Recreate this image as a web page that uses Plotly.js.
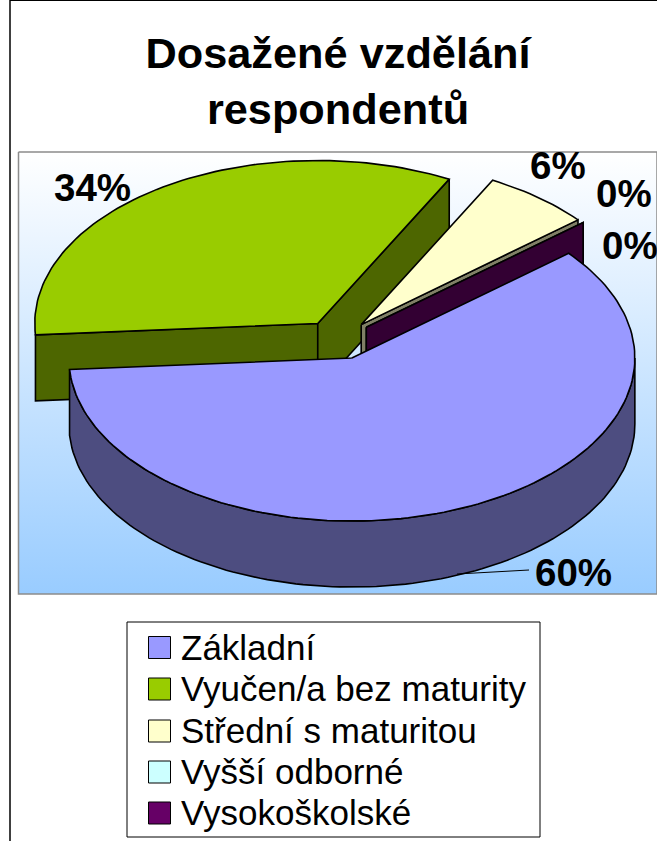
<!DOCTYPE html>
<html><head><meta charset="utf-8">
<script src="https://cdn.plot.ly/plotly-3.0.1.min.js"></script>
<style>html,body{margin:0;padding:0;background:#fff;overflow:hidden}</style>
</head><body><div id="chart" style="width:657px;height:841px"></div>
<script>
const categories = ['Základní','Vyučen/a bez maturity','Střední s maturitou','Vyšší odborné','Vysokoškolské'];
const values = [60, 33.8, 6.2, 0, 0];
const colors = ['#9999FF','#99CC00','#FFFFCC','#CCFFFF','#660066'];
const wallColors = ['#4D4D80','#4D6600','#808066','#668080','#330033'];
const pieTitle = 'Dosažené vzdělání<br>respondentů';

// pie projection
const C = {x:338, y:339.9}, A = 283, B = 163, EA = 37, EB = 19.6, DEPTH = 66, START = 50;
const total = values.reduce((a,b)=>a+b,0);
const rad = d => d*Math.PI/180;
let acc = START;
const slices = values.map((v,i)=>{
  const from = acc, to = acc + v/total*360; acc = to;
  const mid = rad((from+to)/2);
  return {i, from, to, cx:C.x+EA*Math.sin(mid), cy:C.y-EB*Math.cos(mid)};
});
function rim(s, a){ return {x:s.cx+A*Math.sin(rad(a)), y:s.cy-B*Math.cos(rad(a))}; }
function arc(s, a0, a1, dy){
  const n = Math.max(1, Math.ceil(Math.abs(a1-a0)/1.5)), pts=[];
  for(let k=0;k<=n;k++){ const p = rim(s, a0+(a1-a0)*k/n); pts.push([p.x,p.y+(dy||0)]); }
  return pts;
}
function poly(pts, fill, width){
  const xs = pts.map(p=>p[0]), ys = pts.map(p=>p[1]);
  xs.push(xs[0]); ys.push(ys[0]);
  return {type:'scatter', mode:'lines', x:xs, y:ys, fill:'toself', fillcolor:fill,
    line:{color:'#000', width:width||1.6}, hoverinfo:'skip', showlegend:false};
}
function topFace(s){ return poly([[s.cx,s.cy], ...arc(s,s.from,s.to)], colors[s.i]); }
function radialWall(s, a){
  const p = rim(s,a);
  return poly([[s.cx,s.cy],[p.x,p.y],[p.x,p.y+DEPTH],[s.cx,s.cy+DEPTH]], wallColors[s.i]);
}
function outerWall(s, a0, a1){
  return poly([...arc(s,a0,a1), ...arc(s,a1,a0,DEPTH)], wallColors[s.i]);
}
const [blue, green, yellow, cyan, purple] = slices;

const traces = [];
// background panel with vertical gradient
traces.push({type:'scatter', mode:'lines', x:[18.5,657,657,18.5,18.5], y:[152,152,594,594,152],
  fill:'toself', line:{color:'#8C8C8C', width:1.5}, hoverinfo:'skip', showlegend:false,
  fillgradient:{type:'vertical', colorscale:[[0,'#99CCFF'],[1,'#FFFFFF']]}});
traces.push(radialWall(green, green.from));
traces.push(radialWall(green, green.to));
traces.push(topFace(green));
traces.push(radialWall(yellow, yellow.to));
traces.push(topFace(yellow));
traces.push(radialWall(cyan, cyan.to));
traces.push(radialWall(purple, purple.to));
traces.push(outerWall(blue, 90, blue.to));
traces.push(topFace(blue));

// legend
const swatchY = [647.5, 689, 731, 772, 813];
traces.push({type:'scatter', mode:'markers', x:categories.map(()=>159.5), y:swatchY,
  marker:{symbol:'square', size:22, color:colors, line:{color:'#000', width:1}},
  hoverinfo:'skip', showlegend:false});
traces.push({type:'scatter', mode:'text', x:categories.map(()=>181), y:swatchY.map(y=>y+3.5),
  text:categories, textposition:'middle right',
  textfont:{family:'Liberation Sans', size:35, color:'#000'}, hoverinfo:'skip', showlegend:false,
  cliponaxis:false});

const labelPos = [[92,187],[558,165],[624,193],[630,245],[573,572]];
const labelOf = [1,2,3,4,0];
const annotations = labelOf.map((k,i)=>({x:labelPos[i][0], y:labelPos[i][1], xref:'x', yref:'y',
  text:Math.round(values[k])+'%', showarrow:false, font:{family:'Liberation Sans', size:38.5, color:'#000', weight:'bold'}}));

const layout = {
  width:657, height:841, margin:{l:0,r:0,t:0,b:0}, paper_bgcolor:'#fff', plot_bgcolor:'#fff',
  showlegend:false,
  title:{text:pieTitle, x:338/657, xanchor:'center', y:0.9195, yanchor:'middle',
    font:{family:'Liberation Sans', size:43.3, color:'#000', weight:'bold'}},
  xaxis:{range:[0,657], visible:false, fixedrange:true},
  yaxis:{range:[841,0], visible:false, fixedrange:true},
  annotations,
  shapes:[
    {type:'line', xref:'x', yref:'y', x0:529, y0:570, x1:457, y1:574, line:{color:'#000', width:1}},
    {type:'rect', xref:'x', yref:'y', x0:127, y0:622, x1:540, y1:837, line:{color:'#000', width:1}, fillcolor:'rgba(0,0,0,0)'},
    {type:'line', xref:'x', yref:'y', x0:10, y0:0, x1:10, y1:841, line:{color:'#000', width:1.5}},
    {type:'line', xref:'x', yref:'y', x0:10, y0:0.5, x1:657, y1:0.5, line:{color:'#000', width:1}}
  ]
};
Plotly.newPlot('chart', traces, layout, {staticPlot:true, displayModeBar:false});
</script></body></html>
